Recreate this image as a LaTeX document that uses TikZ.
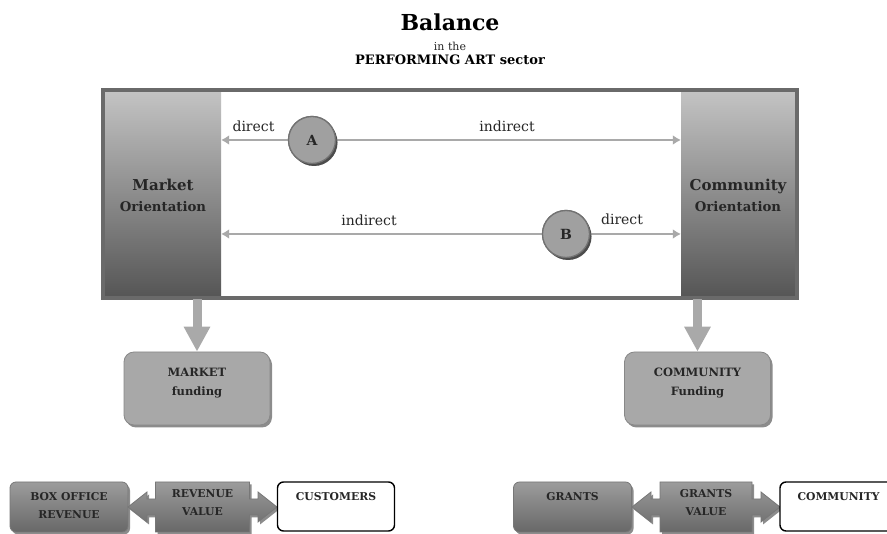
\documentclass[tikz,border=0pt]{standalone}
\usepackage{fontspec}
\setmainfont{DejaVu Serif}
\usetikzlibrary{arrows.meta,shadows,calc}
\definecolor{framec}{HTML}{6A6A6A}
\definecolor{oritop}{HTML}{C4C4C4}
\definecolor{oribot}{HTML}{555555}
\definecolor{fundc}{HTML}{A8A8A8}
\definecolor{funddraw}{HTML}{888888}
\definecolor{btop}{HTML}{9C9C9C}
\definecolor{bbot}{HTML}{686868}
\definecolor{bdraw}{HTML}{777777}
\definecolor{linec}{HTML}{A9A9A9}
\definecolor{circf}{HTML}{A0A0A0}
\definecolor{circd}{HTML}{727272}
\definecolor{txtc}{HTML}{262626}
\tikzset{
  softshadow/.style={drop shadow={shadow xshift=2pt,shadow yshift=-2.5pt,opacity=0.45,fill=black}},
  oribox/.style={rectangle,draw=none,top color=oritop,bottom color=oribot,minimum height=208pt,inner sep=0pt},
  oritext/.style={anchor=base,text=txtc,font=\bfseries\fontsize{15}{18}\selectfont,inner sep=0pt},
  oritextb/.style={anchor=base,text=txtc,font=\bfseries\fontsize{13.3}{16}\selectfont,inner sep=0pt},
  conn/.style={draw=linec,line width=2.5pt,-{Latex[length=8pt,width=10pt]}},
  circ/.style={circle,fill=circf,draw=circd,line width=1.3pt,minimum size=47pt,inner sep=0pt,font=\bfseries\fontsize{14}{16}\selectfont,text=txtc,softshadow},
  lbl/.style={anchor=base,inner sep=0pt,text=txtc,font=\fontsize{14}{16}\selectfont},
  bigarrow/.style={draw=linec,line width=9pt,-{Triangle[length=25pt,width=25pt]}},
  fund/.style={rectangle,rounded corners=10pt,fill=fundc,draw=funddraw,line width=0.8pt,minimum width=146pt,minimum height=73pt,softshadow},
  fundtext/.style={align=center,text=txtc,font=\bfseries\fontsize{11.5}{19}\selectfont,inner sep=0pt},
  darkbox/.style={rectangle,rounded corners=6pt,top color=btop,bottom color=bbot,draw=bdraw,line width=0.8pt,minimum width=118pt,minimum height=50pt,softshadow},
  whitebox/.style={rectangle,rounded corners=6pt,fill=white,draw=black,line width=1.4pt,minimum width=117pt,minimum height=49pt},
  btext/.style={align=center,text=txtc,font=\bfseries\fontsize{10.8}{18}\selectfont,inner sep=0pt},
  callshape/.style={top color=btop,bottom color=bbot,draw=bdraw,line width=0.8pt,softshadow},
}
\begin{document}
\begin{tikzpicture}[x=1pt,y=-1pt]
\useasboundingbox (0,0) rectangle (887,534);
% title
\node[font=\bfseries\fontsize{22}{24}\selectfont,text=black,inner sep=0pt] (title) at (450,22) {Balance};
\node[font=\fontsize{11}{12}\selectfont,text=txtc,inner sep=0pt] (inthe) at (450,46) {in the};
\node[font=\bfseries\fontsize{13}{14}\selectfont,text=black,inner sep=0pt] (sector) at (450,60) {PERFORMING ART sector};
% frame
\node[rectangle,fill=white,minimum width=694pt,minimum height=208pt,inner sep=0pt,softshadow] (frame) at (450,194) {};
\node[oribox,minimum width=118pt] (mkt) at (162,194) {};
\node[oribox,minimum width=116pt] (com) at (739,194) {};
\draw[framec,line width=3.5pt] (frame.north west) rectangle (frame.south east);
\node[oritext] (mkt1) at (163,191) {Market};
\node[oritextb] (mkt2) at (163,212) {Orientation};
\node[oritext] (com1) at (738,191) {Community};
\node[oritextb] (com2) at (738,212) {Orientation};
% connectors A and B
\node[circ] (A) at (312,140) {A};
\node[circ] (B) at (566,234) {B};
\draw[conn] (A.west) -- (mkt.east |- A);
\draw[conn] (A.east) -- (com.west |- A);
\draw[conn] (B.west) -- (mkt.east |- B);
\draw[conn] (B.east) -- (com.west |- B);
\node[circ] (A2) at (312,140) {A};
\node[circ] (B2) at (566,234) {B};
\node[lbl] (dA) at (253.5,132) {direct};
\node[lbl] (iA) at (507,132) {indirect};
\node[lbl] (iB) at (369,226) {indirect};
\node[lbl] (dB) at (622,225) {direct};
% funding
\node[fund] (mf) at (197,388.5) {};
\node[fund] (cf) at (697.5,388.5) {};
\node[fundtext] (mft) at ($(mf.north)+(0,31)$) {MARKET\\funding};
\node[fundtext] (cft) at ($(cf.north)+(0,31)$) {COMMUNITY\\Funding};
\draw[bigarrow] (mf.north |- frame.south) ++(0,1) -- (mf.north);
\draw[bigarrow] (cf.north |- frame.south) ++(0,1) -- (cf.north);
% bottom left
\node[darkbox] (box) at (69,507) {};
\node[btext] (boxt) at (69,506) {BOX OFFICE\\REVENUE};
\path[callshape,shift={(202.5,507)}] (-74.5,0) -- (-55.5,-15) -- (-55.5,-8) -- (-47,-8) -- (-47,-25) -- (47,-25) -- (47,-8) -- (55.5,-8) -- (55.5,-15) -- (74.5,0) -- (55.5,15) -- (55.5,8) -- (47,8) -- (47,25) -- (-47,25) -- (-47,8) -- (-55.5,8) -- (-55.5,15) -- cycle;
\node[btext] (rv) at (202.5,502.5) {REVENUE\\VALUE};
\node[whitebox] (cust) at (336,506.5) {};
\node[btext,anchor=base] (custt) at ($(cust.north)+(0,19)$) {CUSTOMERS};
% bottom right
\node[darkbox] (gr) at (572.5,507) {};
\node[btext,anchor=base] (grt) at ($(gr.north)+(0,19)$) {GRANTS};
\path[callshape,shift={(706,507)}] (-74,0) -- (-55,-15) -- (-55,-8) -- (-46,-8) -- (-46,-25) -- (46,-25) -- (46,-8) -- (55,-8) -- (55,-15) -- (74,0) -- (55,15) -- (55,8) -- (46,8) -- (46,25) -- (-46,25) -- (-46,8) -- (-55,8) -- (-55,15) -- cycle;
\node[btext] (gv) at (706,502.5) {GRANTS\\VALUE};
\node[whitebox] (comm) at (838.5,506.5) {};
\node[btext,anchor=base] (commt) at ($(comm.north)+(0,19)$) {COMMUNITY};
\end{tikzpicture}
\end{document}
